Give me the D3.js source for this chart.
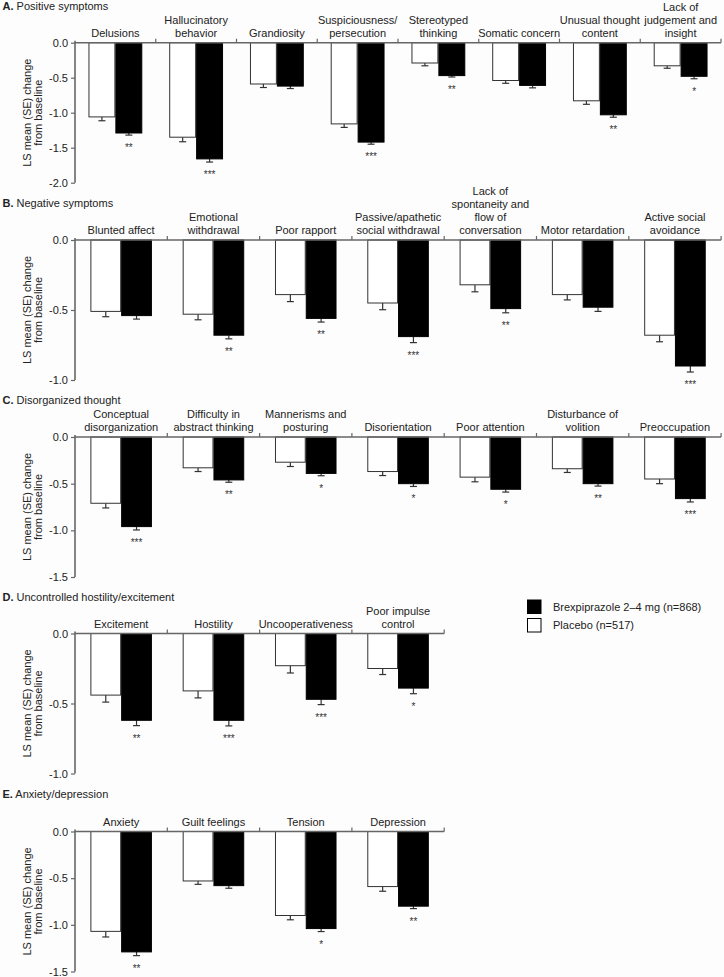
<!DOCTYPE html>
<html>
<head>
<meta charset="utf-8">
<script src="https://cdn.jsdelivr.net/npm/d3@7"></script>
<style>
  html, body { margin: 0; padding: 0; background: #fdfdfd; }
  svg { display: block; font-family: "Liberation Sans", Arial, sans-serif; }
</style>
</head>
<body>
<svg id="chart" width="724" height="977"></svg>
<script>
// ---------------- DATA ----------------
const seriesNames = ["Placebo (n=517)", "Brexpiprazole 2\u20134 mg (n=868)"];

const posCategories = ["Delusions", "Hallucinatory\nbehavior", "Grandiosity", "Suspiciousness/\npersecution",
  "Stereotyped\nthinking", "Somatic concern", "Unusual thought\ncontent", "Lack of\njudgement and\ninsight"];
const posPlacebo   = [-1.06, -1.35, -0.59, -1.16, -0.29, -0.54, -0.83, -0.33];
const posPlaceboSE = [0.055, 0.065, 0.05, 0.05, 0.04, 0.04, 0.05, 0.035];
const posBrex      = [-1.29, -1.66, -0.62, -1.42, -0.47, -0.61, -1.03, -0.48];
const posBrexSE    = [0.03, 0.045, 0.035, 0.03, 0.02, 0.035, 0.035, 0.035];
const posSig       = ["**", "***", "", "***", "**", "", "**", "*"];

const negCategories = ["Blunted affect", "Emotional\nwithdrawal", "Poor rapport", "Passive/apathetic\nsocial withdrawal",
  "Lack of\nspontaneity and\nflow of\nconversation", "Motor retardation", "Active social\navoidance"];
const negPlacebo   = [-0.51, -0.53, -0.39, -0.45, -0.32, -0.39, -0.68];
const negPlaceboSE = [0.038, 0.04, 0.05, 0.048, 0.05, 0.038, 0.047];
const negBrex      = [-0.54, -0.68, -0.56, -0.69, -0.49, -0.48, -0.90];
const negBrexSE    = [0.025, 0.026, 0.026, 0.043, 0.03, 0.03, 0.043];
const negSig       = ["", "**", "**", "***", "**", "", "***"];

const disCategories = ["Conceptual\ndisorganization", "Difficulty in\nabstract thinking", "Mannerisms and\nposturing",
  "Disorientation", "Poor attention", "Disturbance of\nvolition", "Preoccupation"];
const disPlacebo   = [-0.71, -0.33, -0.27, -0.37, -0.43, -0.34, -0.45];
const disPlaceboSE = [0.05, 0.04, 0.046, 0.043, 0.05, 0.04, 0.05];
const disBrex      = [-0.96, -0.46, -0.39, -0.50, -0.56, -0.50, -0.66];
const disBrexSE    = [0.036, 0.025, 0.025, 0.03, 0.03, 0.026, 0.036];
const disSig       = ["***", "**", "*", "*", "*", "**", "***"];

const hosCategories = ["Excitement", "Hostility", "Uncooperativeness", "Poor impulse\ncontrol"];
const hosPlacebo   = [-0.44, -0.41, -0.23, -0.25];
const hosPlaceboSE = [0.05, 0.05, 0.052, 0.043];
const hosBrex      = [-0.62, -0.62, -0.47, -0.39];
const hosBrexSE    = [0.038, 0.04, 0.038, 0.04];
const hosSig       = ["**", "***", "***", "*"];

const anxCategories = ["Anxiety", "Guilt feelings", "Tension", "Depression"];
const anxPlacebo   = [-1.07, -0.53, -0.90, -0.59];
const anxPlaceboSE = [0.06, 0.036, 0.046, 0.05];
const anxBrex      = [-1.29, -0.58, -1.04, -0.80];
const anxBrexSE    = [0.04, 0.028, 0.032, 0.026];
const anxSig       = ["**", "", "*", "**"];

const panelLetters = ["A.", "B.", "C.", "D.", "E."];
const panelTitles  = ["Positive symptoms", "Negative symptoms", "Disorganized thought",
  "Uncontrolled hostility/excitement", "Anxiety/depression"];
const panelYMin    = [-2.0, -1.0, -1.5, -1.0, -1.5];
const yTickValues  = [[0, -0.5, -1.0, -1.5, -2.0], [0, -0.5, -1.0], [0, -0.5, -1.0, -1.5], [0, -0.5, -1.0], [0, -0.5, -1.0, -1.5]];
const yAxisTitle   = ["LS mean (SE) change", "from baseline"];

// ---------------- LAYOUT ----------------
const panels = [
  { cats: posCategories, p: posPlacebo, pse: posPlaceboSE, b: posBrex, bse: posBrexSE, sig: posSig, zero: 42.7, titleY: 6, colW: 80.75 },
  { cats: negCategories, p: negPlacebo, pse: negPlaceboSE, b: negBrex, bse: negBrexSE, sig: negSig, zero: 240, titleY: 203.5, colW: 92.3 },
  { cats: disCategories, p: disPlacebo, pse: disPlaceboSE, b: disBrex, bse: disBrexSE, sig: disSig, zero: 437, titleY: 400.5, colW: 92.3 },
  { cats: hosCategories, p: hosPlacebo, pse: hosPlaceboSE, b: hosBrex, bse: hosBrexSE, sig: hosSig, zero: 633.5, titleY: 597, colW: 92.3 },
  { cats: anxCategories, p: anxPlacebo, pse: anxPlaceboSE, b: anxBrex, bse: anxBrexSE, sig: anxSig, zero: 831.5, titleY: 794.5, colW: 92.3 }
];

const svg = d3.select("#chart");
const axisX = 75;
const plotH = 140;
const fs = 11;
const textColor = "#222";
const axisColor = "#666";

panels.forEach((pn, i) => {
  const g = svg.append("g");
  const width = pn.cats.length * pn.colW;
  const x = d3.scaleBand().domain(pn.cats.map((c, j) => j)).range([axisX, axisX + width]).padding(0);
  const bw = x.bandwidth();
  const xi = d3.scaleBand().domain(["placebo", "brex"]).range([bw / 6, bw * 5 / 6]).padding(0);
  const y = d3.scaleLinear().domain([panelYMin[i], 0]).range([pn.zero + plotH, pn.zero]);

  // panel title
  const t = g.append("text").attr("x", 2.5).attr("y", pn.titleY).attr("dy", "0.35em")
    .attr("font-size", fs).attr("fill", textColor);
  t.append("tspan").attr("font-weight", "bold").text(panelLetters[i]);
  t.append("tspan").text(" " + panelTitles[i]);

  // y axis
  const yAxis = d3.axisLeft(y).tickValues(yTickValues[i]).tickSize(4).tickSizeOuter(0)
    .tickFormat(d => d.toFixed(1));
  const ya = g.append("g").attr("transform", `translate(${axisX},0)`).call(yAxis);
  ya.select(".domain").attr("stroke", axisColor).attr("stroke-width", 1.6)
    .attr("d", `M0,${pn.zero - 2}V${pn.zero + plotH}`);
  ya.selectAll(".tick line").attr("stroke", axisColor).attr("stroke-width", 1.2);
  ya.selectAll(".tick text").attr("font-size", fs).attr("fill", textColor)
    .attr("font-family", "Liberation Sans, Arial, sans-serif").attr("x", -7);

  // y axis title
  const cy = pn.zero + plotH / 2;
  yAxisTitle.forEach((line, k) => {
    g.append("text").attr("transform", `translate(${27 + k * 11.5},${cy}) rotate(-90)`)
      .attr("text-anchor", "middle").attr("font-size", fs).attr("fill", textColor)
      .attr("dy", "0.35em").text(line);
  });

  // bars
  const groups = g.selectAll(".cat").data(pn.cats.map((c, j) => j)).enter().append("g")
    .attr("transform", j => `translate(${x(j)},0)`);

  const series = [
    { key: "placebo", vals: pn.p, se: pn.pse, fill: "#ffffff", stroke: "#333" },
    { key: "brex", vals: pn.b, se: pn.bse, fill: "#000000", stroke: "#000" }
  ];
  series.forEach(s => {
    const cx = xi(s.key) + xi.bandwidth() / 2;
    groups.append("line")
      .attr("x1", cx).attr("x2", cx)
      .attr("y1", j => y(s.vals[j])).attr("y2", j => y(s.vals[j] - s.se[j]))
      .attr("stroke", "#333").attr("stroke-width", 1.2);
    groups.append("line")
      .attr("x1", cx - 3.5).attr("x2", cx + 3.5)
      .attr("y1", j => y(s.vals[j] - s.se[j])).attr("y2", j => y(s.vals[j] - s.se[j]))
      .attr("stroke", "#333").attr("stroke-width", 1.2);
    groups.append("rect")
      .attr("x", xi(s.key) + 0.5).attr("width", xi.bandwidth() - 1)
      .attr("y", y(0)).attr("height", j => y(s.vals[j]) - y(0))
      .attr("fill", s.fill).attr("stroke", s.stroke).attr("stroke-width", 1);
  });

  // significance
  groups.append("text")
    .attr("x", xi("brex") + xi.bandwidth() / 2)
    .attr("y", j => y(pn.b[j] - pn.bse[j]) + 16)
    .attr("text-anchor", "middle").attr("font-size", 10).attr("fill", "#333")
    .text(j => pn.sig[j]);

  // x axis line at zero with boundary ticks upward
  g.append("line").attr("x1", axisX).attr("x2", axisX + width)
    .attr("y1", y(0)).attr("y2", y(0)).attr("stroke", axisColor).attr("stroke-width", 1.6);
  const bounds = pn.cats.map((c, j) => x(j) + bw);
  g.selectAll(".bt").data(bounds).enter().append("line")
    .attr("x1", d => d).attr("x2", d => d).attr("y1", y(0)).attr("y2", y(0) - 4)
    .attr("stroke", axisColor).attr("stroke-width", 1.2);

  // category labels
  groups.each(function (j) {
    const lines = pn.cats[j].split("\n");
    const n = lines.length;
    lines.forEach((ln, k) => {
      d3.select(this).append("text")
        .attr("x", bw / 2).attr("y", y(0) - 6 - (n - 1 - k) * 13)
        .attr("text-anchor", "middle").attr("font-size", fs).attr("fill", textColor)
        .text(ln);
    });
  });
});

// legend
const legend = svg.append("g");
const legendItems = [
  { name: seriesNames[1], fill: "#000", y: 600 },
  { name: seriesNames[0], fill: "#fff", y: 618.5 }
];
legendItems.forEach(it => {
  legend.append("rect").attr("x", 527.5).attr("y", it.y).attr("width", 13.5).attr("height", 13.5)
    .attr("fill", it.fill).attr("stroke", "#000").attr("stroke-width", 1);
  legend.append("text").attr("x", 553).attr("y", it.y + 7).attr("dy", "0.35em")
    .attr("font-size", fs).attr("fill", textColor).text(it.name);
});
</script>
</body>
</html>
